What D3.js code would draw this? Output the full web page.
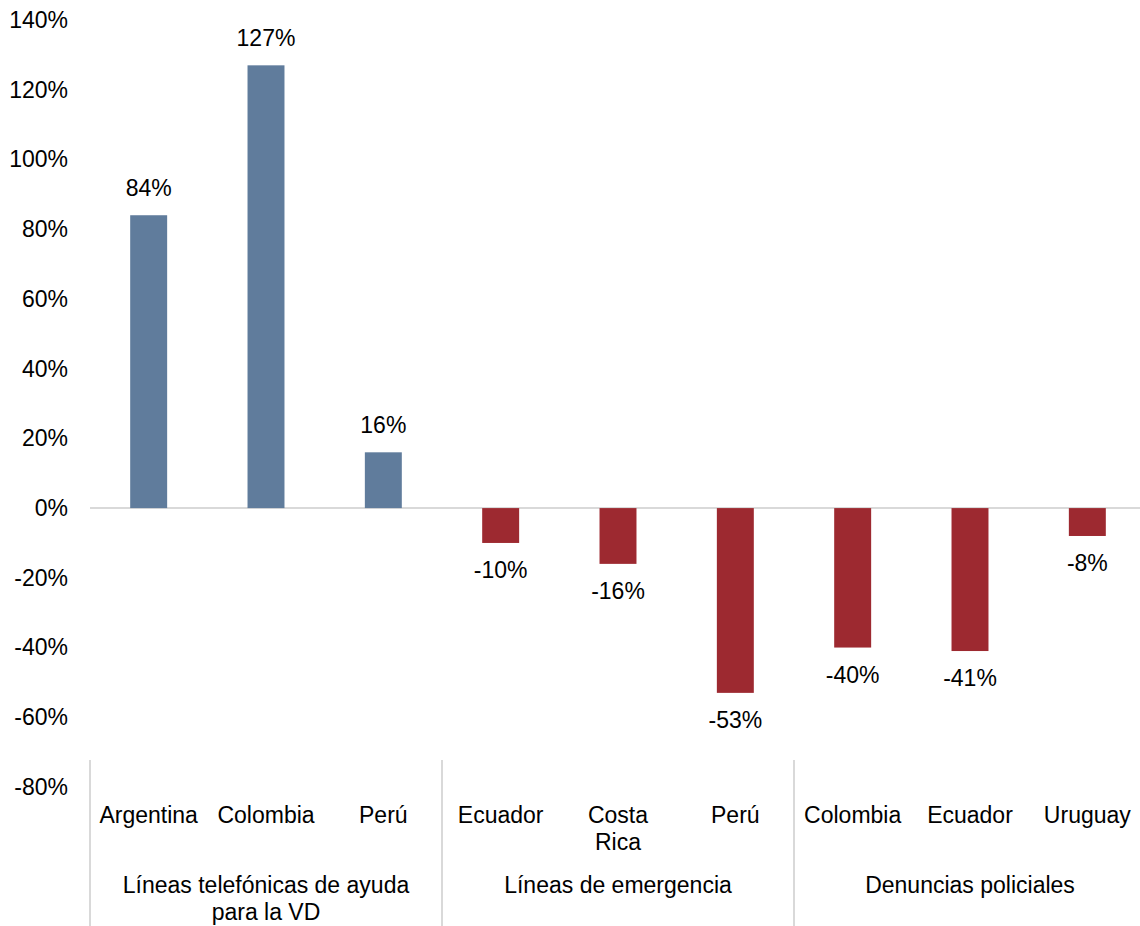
<!DOCTYPE html>
<html>
<head>
<meta charset="utf-8">
<script src="https://cdn.jsdelivr.net/npm/d3@7"></script>
<style>
  html, body { margin: 0; padding: 0; background: #fff; overflow: hidden; }
  svg text { font-family: "Liberation Sans", Arial, sans-serif; fill: #000; }
</style>
</head>
<body>
<svg id="chart" width="1140" height="926"></svg>
<script>
// Category names (one entry per bar), split into lines for wrapping
const categories = [
  ["Argentina"], ["Colombia"], ["Perú"],
  ["Ecuador"], ["Costa", "Rica"], ["Perú"],
  ["Colombia"], ["Ecuador"], ["Uruguay"]
];
// Group each bar belongs to
const groupOf = [0, 0, 0, 1, 1, 1, 2, 2, 2];
const groups = [
  ["Líneas telefónicas de ayuda", "para la VD"],
  ["Líneas de emergencia"],
  ["Denuncias policiales"]
];
// Percentage change per bar
const values = [84, 127, 16, -10, -16, -53, -40, -41, -8];
// Y axis ticks
const yTicks = [-80, -60, -40, -20, 0, 20, 40, 60, 80, 100, 120, 140];

const FONT = "23px";
const svg = d3.select("#chart");
const plotLeft = 90, plotRight = 1146;
const plotTop = 20, plotBottom = 787;

const x = d3.scaleBand()
  .domain(d3.range(values.length))
  .range([plotLeft, plotRight])
  .padding(0);

const y = d3.scaleLinear()
  .domain([-80, 140])
  .range([plotBottom, plotTop]);

const barW = x.bandwidth() * 0.315;

// Y axis labels
const yAxis = d3.axisLeft(y)
  .tickValues(yTicks)
  .tickFormat(d => d + "%")
  .tickSize(0)
  .tickPadding(0);
const gy = svg.append("g")
  .attr("transform", `translate(68,0)`)
  .call(yAxis);
gy.select(".domain").remove();
gy.selectAll("text")
  .style("font-size", FONT)
  .style("font-family", '"Liberation Sans", Arial, sans-serif')
  .attr("fill", "#000");

// Zero line
svg.append("line")
  .attr("x1", plotLeft).attr("x2", plotRight)
  .attr("y1", y(0)).attr("y2", y(0))
  .attr("stroke", "#d9d9d9")
  .attr("stroke-width", 2);

// Bars
svg.selectAll("rect.bar")
  .data(values)
  .join("rect")
  .attr("class", "bar")
  .attr("x", (d, i) => x(i) + (x.bandwidth() - barW) / 2)
  .attr("width", barW)
  .attr("y", d => y(Math.max(0, d)))
  .attr("height", d => Math.abs(y(d) - y(0)))
  .attr("fill", d => d >= 0 ? "#607c9c" : "#9d2930");

// Value labels
svg.selectAll("text.val")
  .data(values)
  .join("text")
  .attr("class", "val")
  .attr("x", (d, i) => x(i) + x.bandwidth() / 2)
  .attr("y", d => d >= 0 ? y(d) - 19 : y(d) + 35)
  .attr("text-anchor", "middle")
  .style("font-size", FONT)
  .text(d => d + "%");

// Category labels
svg.selectAll("text.cat")
  .data(categories)
  .join("text")
  .attr("class", "cat")
  .attr("text-anchor", "middle")
  .style("font-size", FONT)
  .each(function(lines, i) {
    const t = d3.select(this);
    lines.forEach((ln, k) => {
      t.append("tspan")
        .attr("x", x(i) + x.bandwidth() / 2)
        .attr("y", 823 + k * 27)
        .text(ln);
    });
  });

// Group separators
const groupEdges = [0, 3, 6].map(i => x(i));
svg.selectAll("line.sep")
  .data(groupEdges)
  .join("line")
  .attr("class", "sep")
  .attr("x1", d => d).attr("x2", d => d)
  .attr("y1", 760).attr("y2", 926)
  .attr("stroke", "#d9d9d9")
  .attr("stroke-width", 2);

// Group labels
svg.selectAll("text.grp")
  .data(groups)
  .join("text")
  .attr("class", "grp")
  .attr("text-anchor", "middle")
  .style("font-size", FONT)
  .each(function(lines, g) {
    const idx = d3.range(values.length).filter(i => groupOf[i] === g);
    const cx = (x(idx[0]) + x(idx[idx.length - 1]) + x.bandwidth()) / 2;
    const t = d3.select(this);
    lines.forEach((ln, k) => {
      t.append("tspan")
        .attr("x", cx)
        .attr("y", 893 + k * 27)
        .text(ln);
    });
  });
</script>
</body>
</html>
